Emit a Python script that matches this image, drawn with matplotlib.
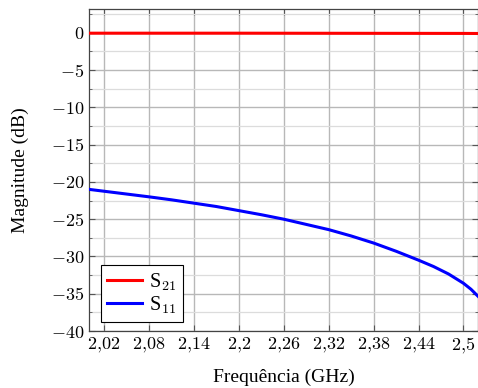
import matplotlib
matplotlib.use("Agg")
import matplotlib.pyplot as plt
from matplotlib.ticker import FixedLocator, FuncFormatter

# Data
freq_s21 = [2.00, 2.10, 2.20, 2.30, 2.40, 2.50, 2.52]
s21 = [-0.05, -0.05, -0.05, -0.06, -0.07, -0.08, -0.09]

freq_s11 = [2.00, 2.04, 2.08, 2.11, 2.14, 2.17, 2.20, 2.23, 2.26, 2.29, 2.32,
            2.35, 2.38, 2.41, 2.44, 2.46, 2.48, 2.50, 2.51, 2.52]
s11 = [-21.0, -21.5, -22.0, -22.4, -22.85, -23.3, -23.85, -24.4, -25.0, -25.7, -26.4,
       -27.25, -28.2, -29.3, -30.5, -31.35, -32.35, -33.6, -34.4, -35.4]

xticks = [2.02, 2.08, 2.14, 2.2, 2.26, 2.32, 2.38, 2.44, 2.5]
yticks = [0, -5, -10, -15, -20, -25, -30, -35, -40]

plt.rcParams['mathtext.fontset'] = 'cm'
plt.rcParams['font.family'] = ['Liberation Serif', 'DejaVu Serif']

fig = plt.figure(figsize=(4.78, 3.88), dpi=100)
ax = fig.add_axes([0.1862, 0.1469, 0.8148, 0.830])

ax.plot(freq_s21, s21, color='red', lw=2.2, label=r'S$_{21}$', zorder=3)
ax.plot(freq_s11, s11, color='blue', lw=2.2, label=r'S$_{11}$', zorder=3)

ax.set_xlim(2.0, 2.52)
ax.set_ylim(-40, 3.2)

ax.xaxis.set_major_locator(FixedLocator(xticks))
ax.yaxis.set_major_locator(FixedLocator(yticks))
ax.yaxis.set_minor_locator(FixedLocator([v - 2.5 for v in yticks] + [2.5]))


def fmt_x(v, pos):
    s = ('%.2f' % v).rstrip('0').replace('.', '{,}')
    return '$' + s + '$'


def fmt_y(v, pos):
    return '$%d$' % v if v != 0 else '$0$'


ax.xaxis.set_major_formatter(FuncFormatter(fmt_x))
ax.yaxis.set_major_formatter(FuncFormatter(fmt_y))

ax.grid(True, which='major', color='#b8b8b8', lw=1.0)
ax.grid(True, which='minor', axis='y', color='#dcdcdc', lw=0.9)
ax.set_axisbelow(True)

ax.tick_params(which='both', direction='in', top=True, right=True,
               labelsize=13, color='#555555')
ax.tick_params(which='major', length=4, width=0.8)
ax.tick_params(which='minor', length=2.5, width=0.6)
for sp in ax.spines.values():
    sp.set_color('#444444')
    sp.set_linewidth(0.9)

ax.set_xlabel('Frequência (GHz)', fontsize=14)
ax.set_ylabel('Magnitude (dB)', fontsize=14)
ax.xaxis.set_label_coords(0.5, -0.118)
ax.yaxis.set_label_coords(-0.155, 0.5)

leg = ax.legend(loc='lower left', bbox_to_anchor=(0.031, 0.028), fontsize=14.5,
                fancybox=False, edgecolor='black', framealpha=1,
                handlelength=1.75, handletextpad=0.35, borderpad=0.3,
                labelspacing=0.1, borderaxespad=0.0)
leg.get_frame().set_linewidth(0.8)

fig.savefig('out.png', dpi=100)
